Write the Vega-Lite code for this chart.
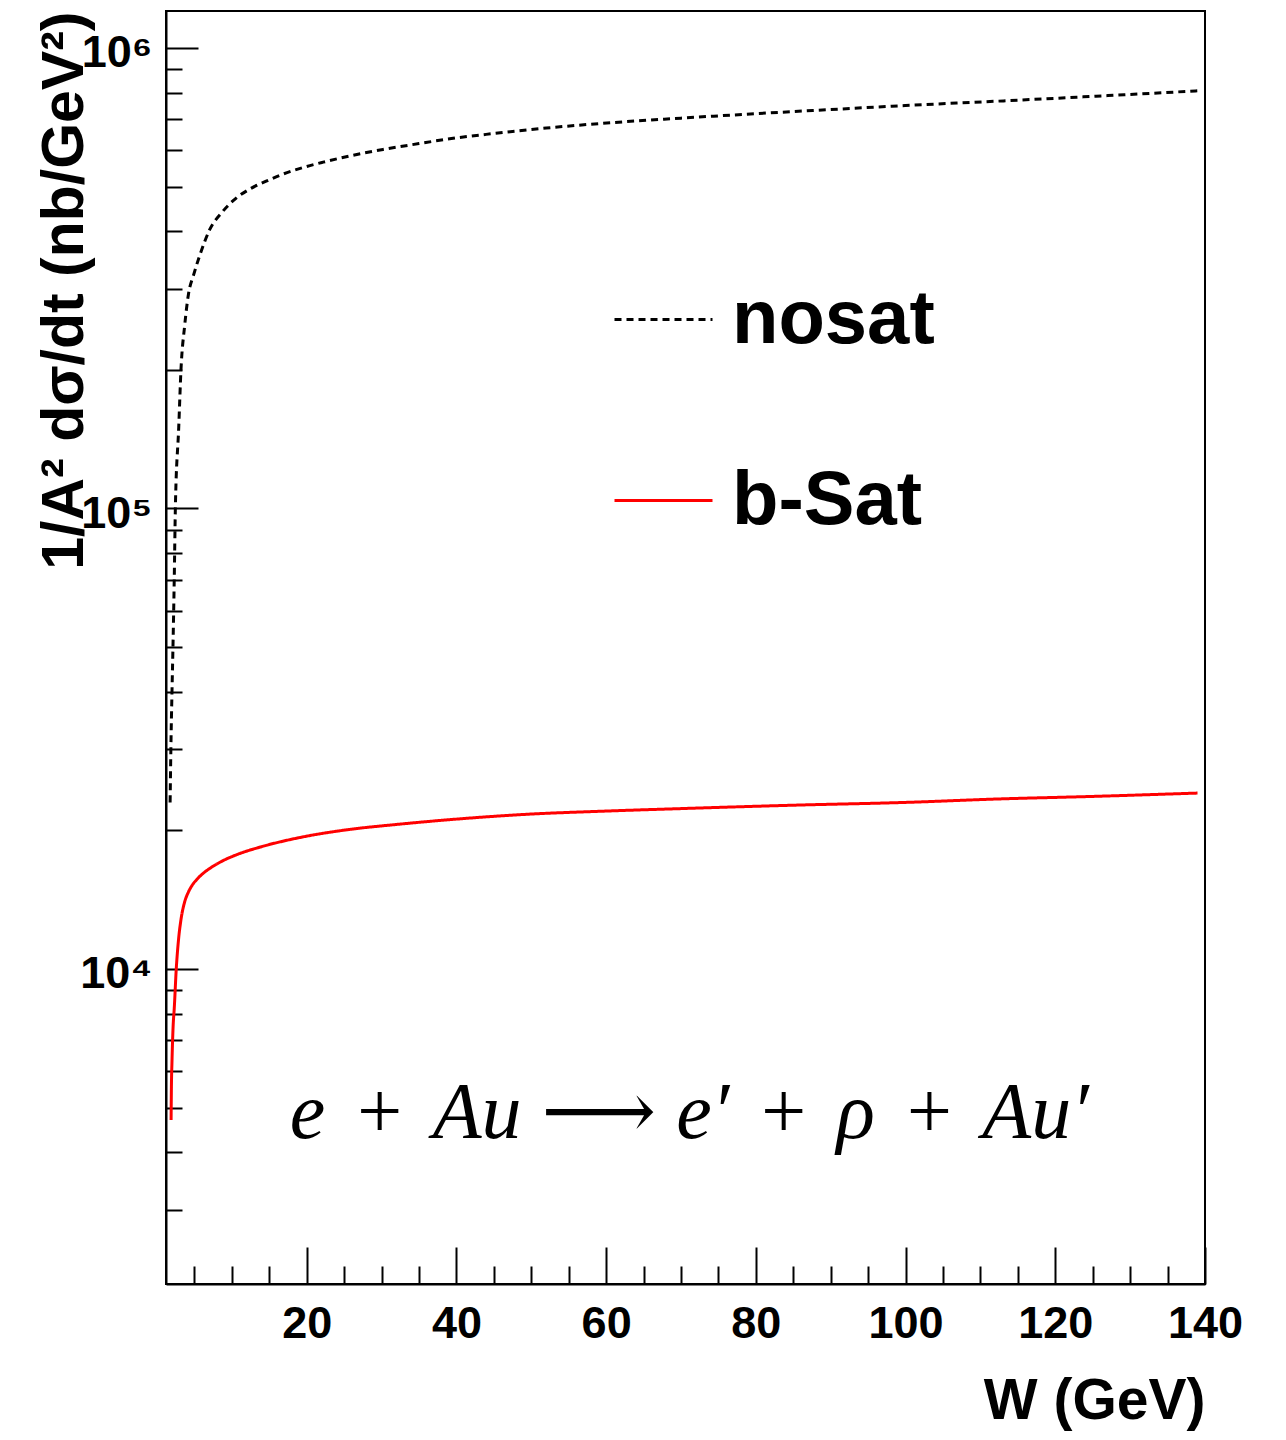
{
  "$schema": "https://vega.github.io/schema/vega-lite/v6.json",
  "width": 1039,
  "height": 1273,
  "autosize": {"type": "none"},
  "padding": {"left": 166, "top": 11, "right": 81, "bottom": 156},
  "background": "white",
  "config": {
    "view": {"stroke": "black", "strokeWidth": 2},
    "axis": {
      "domainColor": "black", "domainWidth": 2, "tickColor": "black", "tickWidth": 2,
      "labelFont": "Liberation Sans", "labelFontWeight": "bold", "labelFontSize": 45, "labelColor": "black",
      "titleFont": "Liberation Sans", "titleFontWeight": "bold", "titleColor": "black", "grid": false
    }
  },
  "datasets": {
    "curves": [
      {"series": "nosat", "W": 1.75, "v": 23000},
      {"series": "nosat", "W": 1.85, "v": 30000},
      {"series": "nosat", "W": 2.0, "v": 40000},
      {"series": "nosat", "W": 2.13, "v": 50000},
      {"series": "nosat", "W": 2.3, "v": 70000},
      {"series": "nosat", "W": 2.45, "v": 100000},
      {"series": "nosat", "W": 2.9, "v": 150000},
      {"series": "nosat", "W": 3.2, "v": 200000},
      {"series": "nosat", "W": 3.7, "v": 250000},
      {"series": "nosat", "W": 4.2, "v": 292000},
      {"series": "nosat", "W": 4.9, "v": 322000},
      {"series": "nosat", "W": 5.8, "v": 358000},
      {"series": "nosat", "W": 7.0, "v": 402000},
      {"series": "nosat", "W": 8.8, "v": 442000},
      {"series": "nosat", "W": 10.5, "v": 471000},
      {"series": "nosat", "W": 12.4, "v": 494000},
      {"series": "nosat", "W": 14.5, "v": 513000},
      {"series": "nosat", "W": 16.8, "v": 532000},
      {"series": "nosat", "W": 19.5, "v": 550000},
      {"series": "nosat", "W": 22.2, "v": 565000},
      {"series": "nosat", "W": 26, "v": 584000},
      {"series": "nosat", "W": 30.2, "v": 602000},
      {"series": "nosat", "W": 35, "v": 620000},
      {"series": "nosat", "W": 39.1, "v": 635000},
      {"series": "nosat", "W": 45, "v": 652000},
      {"series": "nosat", "W": 52, "v": 670000},
      {"series": "nosat", "W": 59, "v": 685000},
      {"series": "nosat", "W": 70, "v": 704000},
      {"series": "nosat", "W": 80, "v": 720000},
      {"series": "nosat", "W": 90, "v": 735000},
      {"series": "nosat", "W": 100, "v": 750000},
      {"series": "nosat", "W": 112, "v": 766000},
      {"series": "nosat", "W": 125, "v": 785000},
      {"series": "nosat", "W": 139, "v": 807000},
      {"series": "b-Sat", "W": 1.88, "v": 4700},
      {"series": "b-Sat", "W": 1.92, "v": 5500},
      {"series": "b-Sat", "W": 2.0, "v": 6300},
      {"series": "b-Sat", "W": 2.15, "v": 7500},
      {"series": "b-Sat", "W": 2.3, "v": 8200},
      {"series": "b-Sat", "W": 2.57, "v": 10000},
      {"series": "b-Sat", "W": 2.9, "v": 11700},
      {"series": "b-Sat", "W": 3.2, "v": 12800},
      {"series": "b-Sat", "W": 3.7, "v": 14000},
      {"series": "b-Sat", "W": 4.2, "v": 14700},
      {"series": "b-Sat", "W": 4.7, "v": 15200},
      {"series": "b-Sat", "W": 5.4, "v": 15700},
      {"series": "b-Sat", "W": 6.2, "v": 16150},
      {"series": "b-Sat", "W": 7.2, "v": 16600},
      {"series": "b-Sat", "W": 8.7, "v": 17150},
      {"series": "b-Sat", "W": 11, "v": 17800},
      {"series": "b-Sat", "W": 13.8, "v": 18400},
      {"series": "b-Sat", "W": 19.1, "v": 19300},
      {"series": "b-Sat", "W": 25.8, "v": 20100},
      {"series": "b-Sat", "W": 32, "v": 20600},
      {"series": "b-Sat", "W": 39.1, "v": 21100},
      {"series": "b-Sat", "W": 50, "v": 21700},
      {"series": "b-Sat", "W": 59.1, "v": 22000},
      {"series": "b-Sat", "W": 70, "v": 22300},
      {"series": "b-Sat", "W": 85.8, "v": 22700},
      {"series": "b-Sat", "W": 100, "v": 23000},
      {"series": "b-Sat", "W": 112.4, "v": 23400},
      {"series": "b-Sat", "W": 125, "v": 23700},
      {"series": "b-Sat", "W": 139, "v": 24100}
    ],
    "note": [
      {"W": 71.1, "v": 4295, "label": "e\u2004+\u2004Au ⟶ e′\u2004+\u2004ρ\u2004+\u2004Au′"}
    ]
  },
  "layer": [
    {
      "data": {"name": "curves"},
      "mark": {"type": "line", "strokeWidth": 3, "interpolate": "monotone"},
      "encoding": {
        "x": {
          "field": "W", "type": "quantitative",
          "scale": {"domain": [1.2, 140], "nice": false, "zero": false},
          "axis": {
            "orient": "bottom",
            "values": [20, 40, 60, 80, 100, 120, 140],
            "tickSize": -37, "labelPadding": 54, "labelFlush": false,
            "title": "W (GeV)", "titleFontSize": 57,
            "titleAnchor": "end", "titleAlign": "right", "titleBaseline": "alphabetic",
            "titleX": 1039, "titleY": 134
          }
        },
        "y": {
          "field": "v", "type": "quantitative",
          "scale": {"type": "log", "domain": [2070, 1203000], "nice": false},
          "axis": {
            "orient": "left",
            "values": [10000, 100000, 1000000],
            "labelExpr": "datum.value == 10000 ? '10⁴' : datum.value == 100000 ? '10⁵' : '10⁶'",
            "tickSize": -32, "labelPadding": 46, "labelOffset": 5, "labelFlush": false,
            "title": "1/A² dσ/dt (nb/GeV²)", "titleFontSize": 59,
            "titleAngle": 270, "titleAnchor": "end", "titleAlign": "right", "titleBaseline": "alphabetic",
            "titleX": -84, "titleY": 0
          }
        },
        "color": {
          "field": "series", "type": "nominal",
          "scale": {"domain": ["nosat", "b-Sat"], "range": ["black", "red"]},
          "legend": {
            "orient": "none", "legendX": 447, "legendY": 258, "title": null, "padding": 0,
            "symbolType": "stroke", "symbolSize": 9604, "symbolStrokeWidth": 3,
            "labelFont": "Liberation Sans", "labelFontWeight": "bold", "labelFontSize": 76,
            "labelColor": "black", "labelOffset": 18, "labelLimit": 0, "rowPadding": 92
          }
        },
        "strokeDash": {
          "field": "series", "type": "nominal",
          "scale": {"domain": ["nosat", "b-Sat"], "range": [[7, 5], [1, 0]]}
        }
      }
    },
    {
      "data": {"name": "note"},
      "mark": {"type": "text", "font": "Liberation Serif, DejaVu Serif", "fontStyle": "italic", "fontSize": 80, "align": "center", "baseline": "alphabetic", "color": "black"},
      "encoding": {
        "x": {
          "field": "W", "type": "quantitative",
          "scale": {"domain": [1.2, 140], "nice": false, "zero": false},
          "axis": {
            "orient": "bottom",
            "values": [5, 10, 15, 25, 30, 35, 45, 50, 55, 65, 70, 75, 85, 90, 95, 105, 110, 115, 125, 130, 135],
            "tickSize": -18, "labels": false, "domain": false, "title": null
          }
        },
        "y": {
          "field": "v", "type": "quantitative",
          "scale": {"type": "log", "domain": [2070, 1203000], "nice": false},
          "axis": {
            "orient": "left",
            "values": [3000, 4000, 5000, 6000, 7000, 8000, 9000, 20000, 30000, 40000, 50000, 60000, 70000, 80000, 90000, 200000, 300000, 400000, 500000, 600000, 700000, 800000, 900000],
            "tickSize": -16, "labels": false, "domain": false, "title": null
          }
        },
        "text": {"field": "label"}
      }
    }
  ],
  "resolve": {"axis": {"x": "independent", "y": "independent"}}
}
